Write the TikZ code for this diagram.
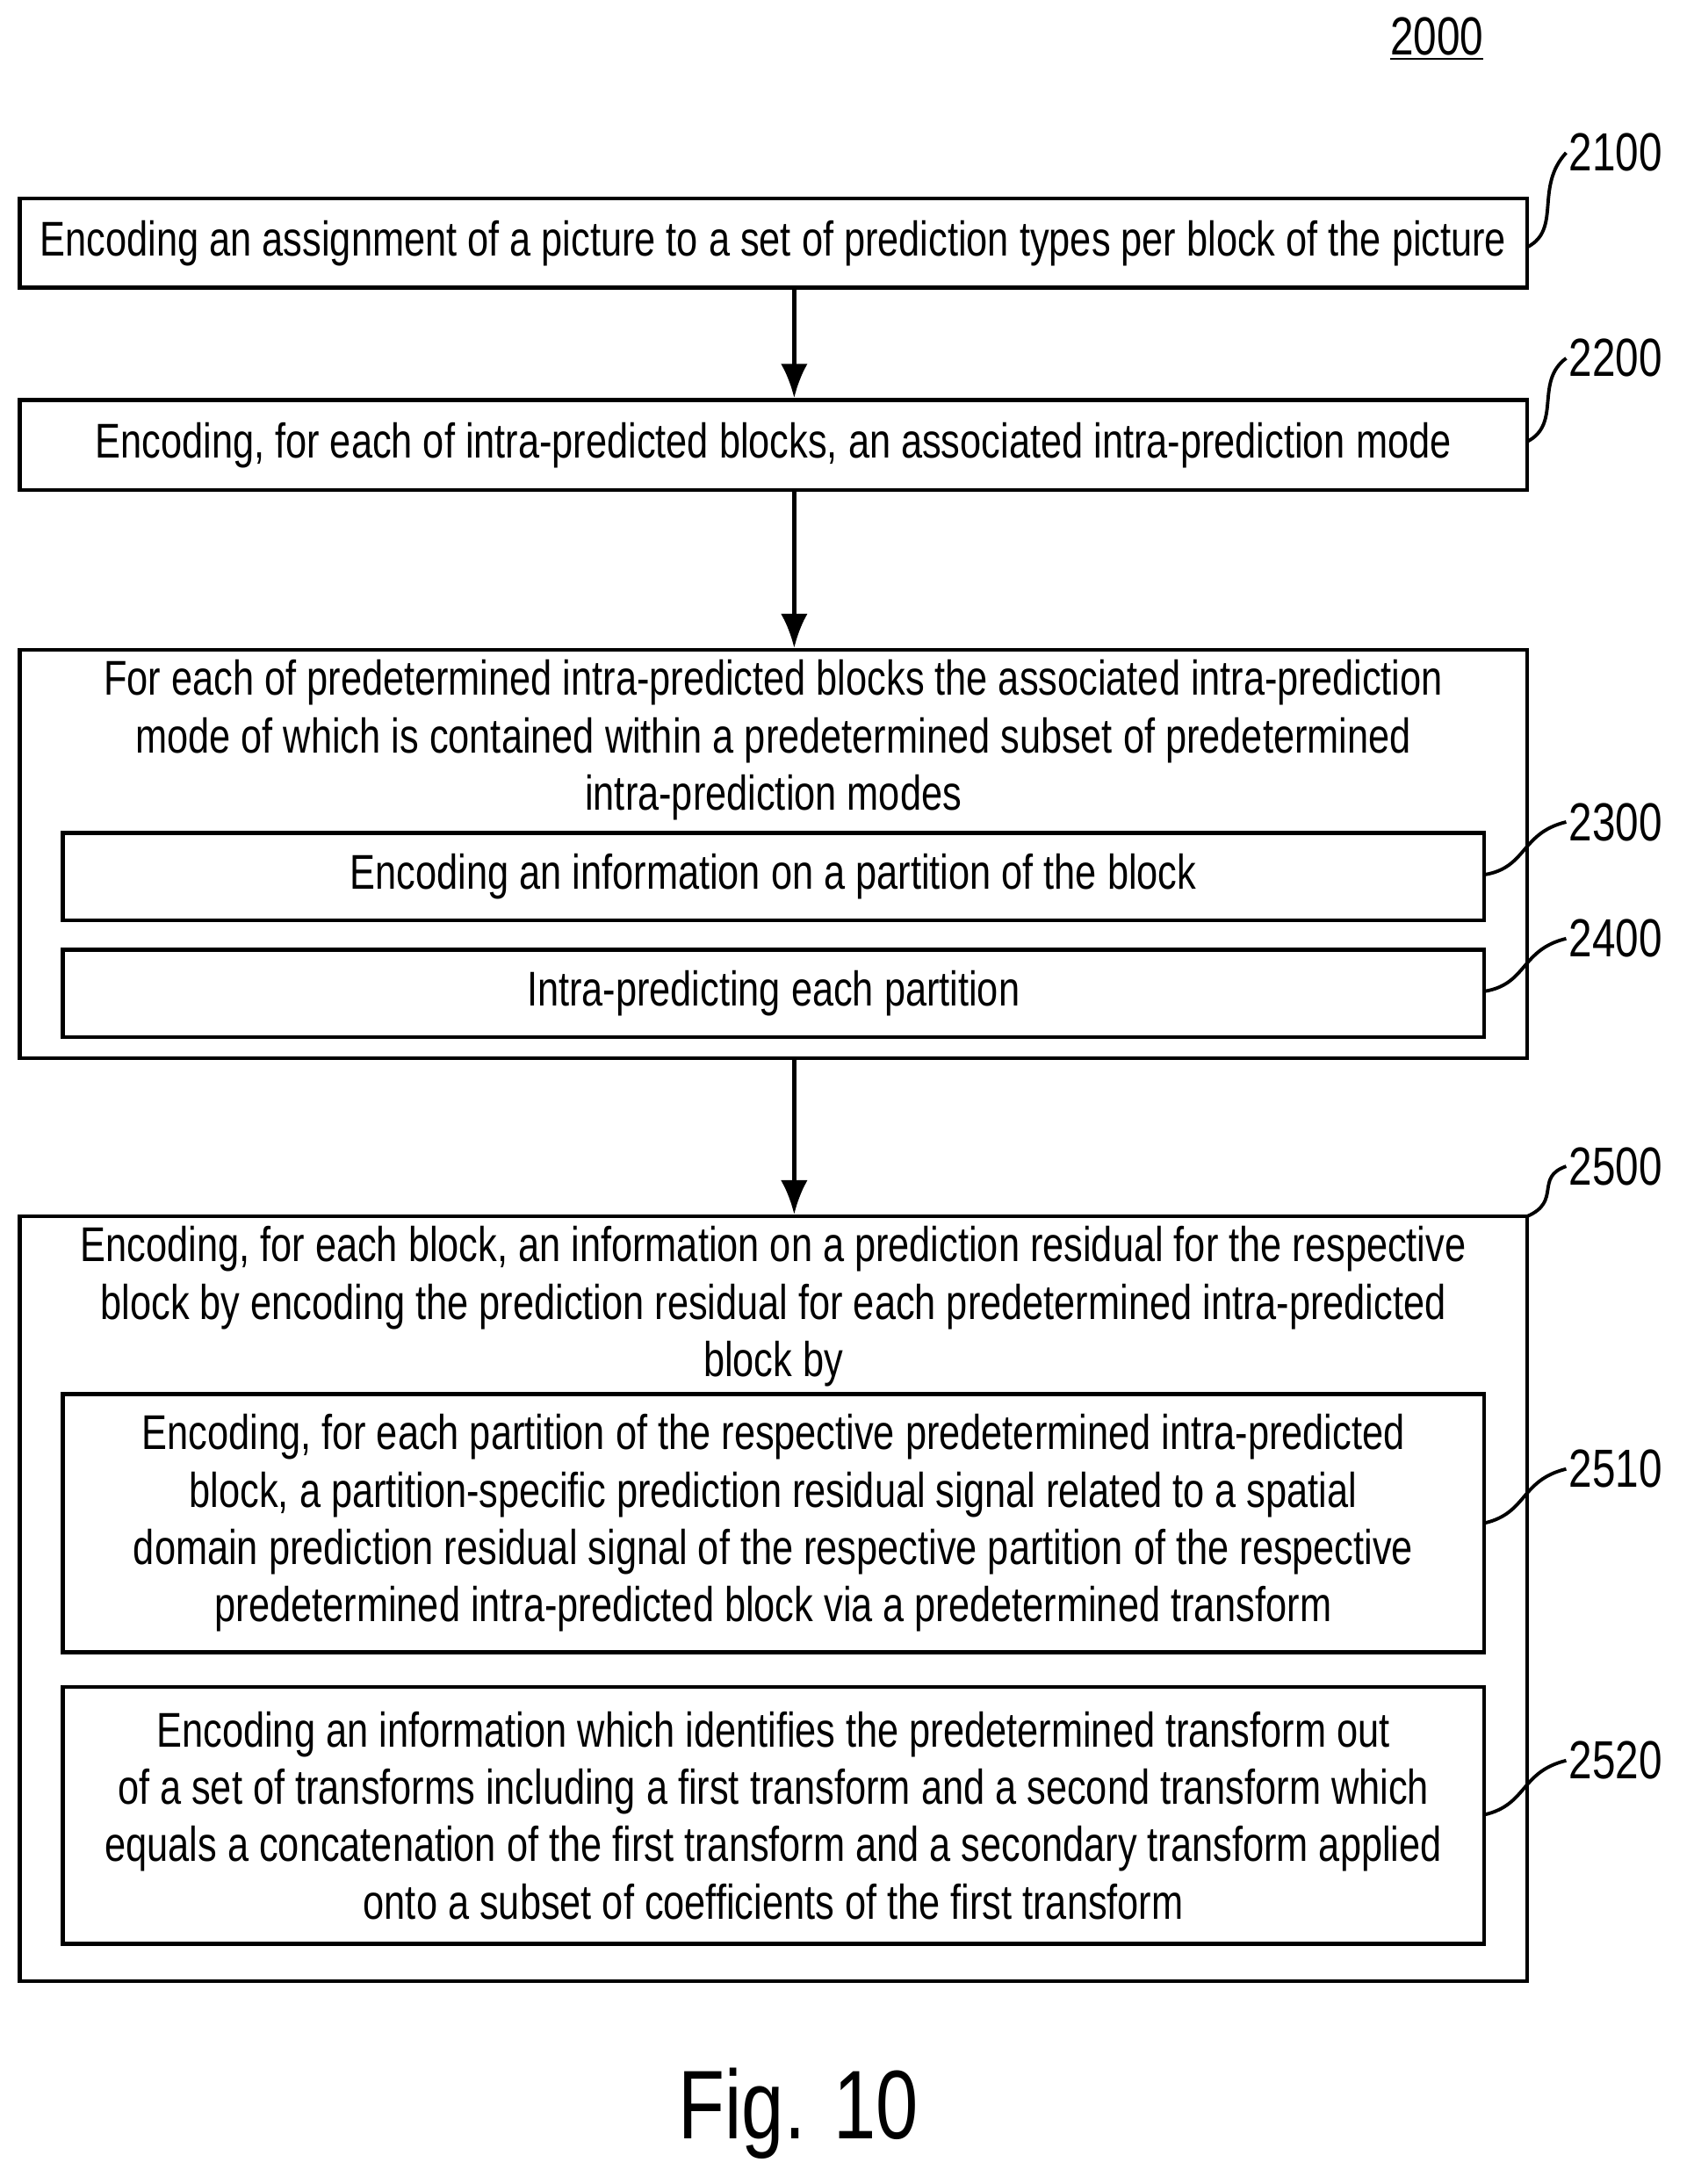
\documentclass[tikz,border=0pt]{standalone}
\usepackage{fontspec}
\setmainfont{Liberation Sans}[FakeStretch=0.78]
\usetikzlibrary{arrows.meta}

\tikzset{
  box/.style={draw, line width=1.6pt, rectangle, minimum width=21.72cm, inner sep=0pt},
  inbox/.style={draw, line width=1.6pt, rectangle, minimum width=20.48cm, inner sep=0pt, align=center},
  txt/.style={align=center, font=\fontsize{20}{23.5}\selectfont},
  flow/.style={line width=1.6pt, -{Latex[length=14pt,width=11pt]}},
  tag/.style={font=\fontsize{22}{24}\selectfont, anchor=west, inner sep=1pt},
  hook/.style={line width=1.4pt}
}

\begin{document}
\begin{tikzpicture}[x=0.02cm,y=-0.02cm]
  \useasboundingbox (0,0) rectangle (1220,1573);

  \node[font=\fontsize{22}{24}\selectfont] (num) at (1035,28) {\underline{2000}};

  % steps
  \node[box, minimum height=1.28cm, txt] (enc) at (557,175)
    {Encoding an assignment of a picture to a set of prediction types per block of the picture};
  \node[box, minimum height=1.3cm, txt] (mode) at (557,320.5)
    {Encoding, for each of intra-predicted blocks, an associated intra-prediction mode};
  \node[box, minimum height=5.88cm] (each) at (557,615) {};
  \node[txt] (eachtxt) at (557,533)
    {For each of predetermined intra-predicted blocks the associated intra-prediction\\
     mode of which is contained within a predetermined subset of predetermined\\
     intra-prediction modes};
  \node[inbox, minimum height=1.26cm, txt] (part) at (557,631.5)
    {Encoding an information on a partition of the block};
  \node[inbox, minimum height=1.26cm, txt] (pred) at (557,715.5)
    {Intra-predicting each partition};
  \node[box, minimum height=11.02cm] (resid) at (557,1151.5) {};
  \node[txt] (residtxt) at (557,941)
    {Encoding, for each block, an information on a prediction residual for the respective\\
     block by encoding the prediction residual for each predetermined intra-predicted\\
     block by};
  \node[inbox, minimum height=3.72cm, txt] (sig) at (557,1097)
    {Encoding, for each partition of the respective predetermined intra-predicted\\
     block, a partition-specific prediction residual signal related to a spatial\\
     domain prediction residual signal of the respective partition of the respective\\
     predetermined intra-predicted block via a predetermined transform};
  \node[inbox, minimum height=3.7cm, txt] (trf) at (557,1307.5)
    {Encoding an information which identifies the predetermined transform out\\
     of a set of transforms including a first transform and a second transform which\\
     equals a concatenation of the first transform and a secondary transform applied\\
     onto a subset of coefficients of the first transform};

  \draw[flow] (enc.south -| 572,0) -- (mode.north -| 572,0);
  \draw[flow] (mode.south -| 572,0) -- (each.north -| 572,0);
  \draw[flow] (each.south -| 572,0) -- (resid.north -| 572,0);

  % reference tags
  \node[tag] (t2100) at (1128,110) {2100};
  \node[tag] (t2200) at (1128,258) {2200};
  \node[tag] (t2300) at (1128,592) {2300};
  \node[tag] (t2400) at (1128,676) {2400};
  \node[tag] (t2500) at (1128,840) {2500};
  \node[tag] (t2510) at (1128,1058) {2510};
  \node[tag] (t2520) at (1128,1268) {2520};

  \draw[hook] (1100,178) .. controls (1125,165) and (1105,135) .. (t2100.west);
  \draw[hook] (1100,318) .. controls (1125,305) and (1105,275) .. (t2200.west);
  \draw[hook] (1069,630) .. controls (1100,625) and (1095,600) .. (t2300.west);
  \draw[hook] (1069,714) .. controls (1100,709) and (1095,684) .. (t2400.west);
  \draw[hook] (1100,876) .. controls (1125,865) and (1105,848) .. (t2500.west);
  \draw[hook] (1069,1097) .. controls (1100,1090) and (1095,1066) .. (t2510.west);
  \draw[hook] (1069,1307) .. controls (1100,1300) and (1095,1276) .. (t2520.west);

  \node[font=\fontsize{40}{44}\selectfont] (fig) at (575,1522) {Fig. 10};
\end{tikzpicture}
\end{document}
